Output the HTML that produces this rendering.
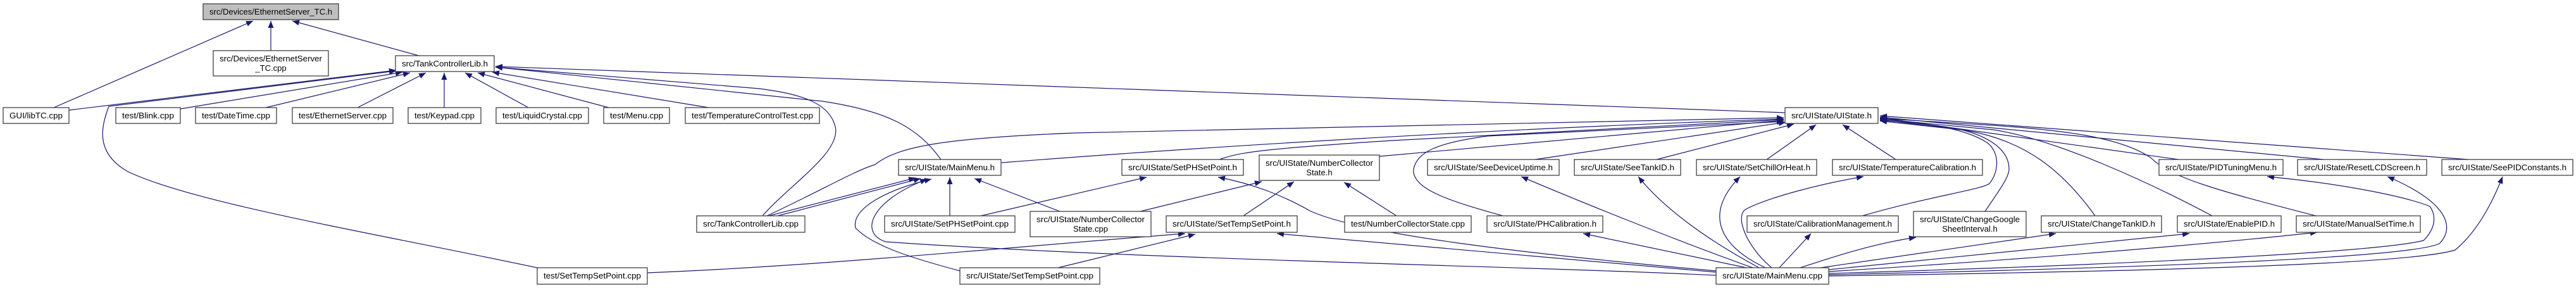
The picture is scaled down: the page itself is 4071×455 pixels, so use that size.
<!DOCTYPE html>
<html><head><meta charset="utf-8"><style>
html,body{margin:0;padding:0;background:#fff;}
svg{display:block;}
text{font-family:"Liberation Sans",Arial,sans-serif;font-size:13px;fill:#000;}
</style></head><body>
<svg width="4071" height="455" viewBox="0 0 4071 455" xmlns="http://www.w3.org/2000/svg">
<defs>
<marker id="a" markerWidth="12" markerHeight="10" refX="11" refY="5" orient="auto" markerUnits="userSpaceOnUse"><path d="M0,0.5 L11,5 L0,9.5 z" fill="#191970"/></marker>
</defs>
<g fill="none" stroke="#191970" stroke-width="1.2" marker-end="url(#a)">
<!-- to EthernetServer_TC.h -->
<path d="M85,170 L400,33"/>
<path d="M428,80 L428,33"/>
<path d="M662,88 L462,33"/>
<!-- to TankControllerLib.h -->
<path d="M109,174 L626,111"/>
<path d="M849,423 C600,370 300,320 200,270 C150,240 160,200 172,168 L626,112"/>
<path d="M285,172 L636,114"/>
<path d="M420,170 L648,115"/>
<path d="M565,170 L673,115"/>
<path d="M702,170 L702,115"/>
<path d="M835,170 L735,115"/>
<path d="M962,170 L755,115"/>
<path d="M1120,170 L778,114"/>
<path d="M1205,341 C1250,290 1330,240 1320,200 C1310,160 1260,148 1200,140 L783,106"/>
<path d="M1487,252 C1450,200 1400,175 1300,160 L783,106"/>
<path d="M2821,178 L783,105"/>
<!-- to UIState.h -->
<path d="M1212,341 C1300,300 1350,270 1383,260 C1420,230 1500,218 1700,210 L2819,186"/>
<path d="M1583,257 C1800,240 2300,205 2819,188"/>
<path d="M1927,252 C1960,240 2000,235 2200,222 L2819,189"/>
<path d="M2180,247 L2819,190"/>
<path d="M2375,341 C2300,320 2230,300 2234,267 C2240,240 2270,226 2350,215 L2819,192"/>
<path d="M2426,252 L2822,193"/>
<path d="M2618,252 L2835,196"/>
<path d="M2792,252 L2870,197"/>
<path d="M2996,252 L2912,197"/>
<path d="M2943,341 C3050,310 3130,300 3144,290 C3160,270 3160,240 3140,225 C3100,200 3040,195 2971,190"/>
<path d="M3137,334 C3160,300 3175,280 3175,267 C3175,235 3140,215 3100,205 L2971,191"/>
<path d="M3311,341 C3260,270 3200,220 3100,205 L2971,189"/>
<path d="M3496,341 C3400,290 3250,220 3150,205 L2971,188"/>
<path d="M3660,341 C3500,300 3430,280 3400,250 C3350,215 3250,205 3150,198 L2971,187"/>
<path d="M3443,252 L2971,186"/>
<path d="M3672,252 L2971,185"/>
<path d="M3901,252 L2971,183"/>
<!-- to MainMenu.h -->
<path d="M1215,341 L1447,281"/>
<path d="M1225,342 L1455,282"/>
<path d="M2712,435 C2400,420 1800,410 1400,382 C1360,370 1370,320 1465,283"/>
<path d="M1517,428 C1450,410 1380,390 1352,360 C1345,330 1400,300 1472,283"/>
<path d="M1501,341 L1501,280"/>
<path d="M1675,334 L1540,282"/>
<!-- to SetPHSetPoint.h -->
<path d="M1550,341 L1812,280"/>
<path d="M2712,428 C2400,400 2150,370 2070,333 C2030,310 1980,290 1925,280"/>
<!-- to NumberCollectorState.h -->
<path d="M1802,334 L1994,287"/>
<path d="M1965,341 L2045,287"/>
<path d="M2207,341 L2124,288"/>
<!-- to SetTempSetPoint.h -->
<path d="M1023,431 C1300,420 1600,390 1873,369"/>
<path d="M1672,423 L1889,370"/>
<path d="M2712,430 L2018,369"/>
<!-- MainMenu.cpp to others -->
<path d="M2812,423 L2862,369"/>
<path d="M2845,423 C2900,405 2960,385 3028,375"/>
<path d="M2870,424 L3249,369"/>
<path d="M2890,426 L3460,369"/>
<path d="M2890,429 C3200,410 3500,385 3662,367"/>
<path d="M2890,432 C3300,420 3750,400 3830,380 C3850,360 3850,340 3840,326 C3800,310 3700,290 3583,279"/>
<path d="M2890,434 C3300,425 3800,410 3855,385 C3880,360 3870,320 3773,279"/>
<path d="M2890,436 C3300,430 3800,420 3880,395 C3910,370 3935,330 3955,279"/>
<path d="M2760,423 L2502,369"/>
<path d="M2770,423 C2650,380 2500,320 2404,279"/>
<path d="M2780,423 C2700,380 2630,330 2589,279"/>
<path d="M2790,423 C2720,390 2690,340 2750,279"/>
<path d="M2800,423 C2760,390 2740,340 2760,330 C2800,310 2880,290 2945,279"/>
</g>
<g stroke="#404040" stroke-width="1.3">
<rect x="321" y="6" width="214" height="25" fill="#bfbfbf"/>
<g fill="#fff">
<rect x="337" y="80" width="182" height="40"/>
<rect x="625" y="88" width="156" height="25"/>
<rect x="5" y="170" width="104" height="25"/>
<rect x="183" y="170" width="102" height="25"/>
<rect x="309" y="170" width="128" height="25"/>
<rect x="462" y="170" width="159" height="25"/>
<rect x="645" y="170" width="115" height="25"/>
<rect x="784" y="170" width="146" height="25"/>
<rect x="954" y="170" width="104" height="25"/>
<rect x="1083" y="170" width="212" height="25"/>
<rect x="2821" y="170" width="147" height="25"/>
<rect x="1420" y="252" width="162" height="25"/>
<rect x="1773" y="252" width="192" height="25"/>
<rect x="1990" y="245" width="190" height="40"/>
<rect x="2256" y="252" width="208" height="25"/>
<rect x="2488" y="252" width="168" height="25"/>
<rect x="2681" y="252" width="190" height="25"/>
<rect x="2896" y="252" width="237" height="25"/>
<rect x="3412" y="252" width="196" height="25"/>
<rect x="3631" y="252" width="204" height="25"/>
<rect x="3859" y="252" width="207" height="25"/>
<rect x="1101" y="341" width="171" height="26"/>
<rect x="1398" y="341" width="206" height="26"/>
<rect x="1628" y="334" width="191" height="40"/>
<rect x="1843" y="341" width="207" height="26"/>
<rect x="2125" y="341" width="200" height="26"/>
<rect x="2350" y="341" width="183" height="26"/>
<rect x="2761" y="341" width="239" height="26"/>
<rect x="3024" y="334" width="178" height="40"/>
<rect x="3226" y="341" width="190" height="26"/>
<rect x="3441" y="341" width="164" height="26"/>
<rect x="3629" y="341" width="196" height="26"/>
<rect x="849" y="423" width="174" height="26"/>
<rect x="1517" y="423" width="221" height="26"/>
<rect x="2712" y="423" width="178" height="26"/>
</g></g>
<g text-anchor="middle" lengthAdjust="spacingAndGlyphs">
<text x="428" y="23" textLength="194" lengthAdjust="spacingAndGlyphs">src/Devices/EthernetServer_TC.h</text>
<text x="428" y="97" textLength="162" lengthAdjust="spacingAndGlyphs">src/Devices/EthernetServer</text>
<text x="428" y="112">_TC.cpp</text>
<text x="703" y="105" textLength="136" lengthAdjust="spacingAndGlyphs">src/TankControllerLib.h</text>
<text x="57" y="187" textLength="84" lengthAdjust="spacingAndGlyphs">GUI/libTC.cpp</text>
<text x="234" y="187" textLength="82" lengthAdjust="spacingAndGlyphs">test/Blink.cpp</text>
<text x="373" y="187" textLength="108" lengthAdjust="spacingAndGlyphs">test/DateTime.cpp</text>
<text x="541.5" y="187" textLength="139" lengthAdjust="spacingAndGlyphs">test/EthernetServer.cpp</text>
<text x="702.5" y="187" textLength="95" lengthAdjust="spacingAndGlyphs">test/Keypad.cpp</text>
<text x="857" y="187" textLength="126" lengthAdjust="spacingAndGlyphs">test/LiquidCrystal.cpp</text>
<text x="1006" y="187" textLength="84" lengthAdjust="spacingAndGlyphs">test/Menu.cpp</text>
<text x="1189" y="187" textLength="192" lengthAdjust="spacingAndGlyphs">test/TemperatureControlTest.cpp</text>
<text x="2894.5" y="187" textLength="127" lengthAdjust="spacingAndGlyphs">src/UIState/UIState.h</text>
<text x="1501" y="269" textLength="142" lengthAdjust="spacingAndGlyphs">src/UIState/MainMenu.h</text>
<text x="1869" y="269" textLength="172" lengthAdjust="spacingAndGlyphs">src/UIState/SetPHSetPoint.h</text>
<text x="2085" y="262" textLength="170" lengthAdjust="spacingAndGlyphs">src/UIState/NumberCollector</text>
<text x="2085" y="277">State.h</text>
<text x="2360" y="269" textLength="188" lengthAdjust="spacingAndGlyphs">src/UIState/SeeDeviceUptime.h</text>
<text x="2572" y="269" textLength="148" lengthAdjust="spacingAndGlyphs">src/UIState/SeeTankID.h</text>
<text x="2776" y="269" textLength="170" lengthAdjust="spacingAndGlyphs">src/UIState/SetChillOrHeat.h</text>
<text x="3014.5" y="269" textLength="217" lengthAdjust="spacingAndGlyphs">src/UIState/TemperatureCalibration.h</text>
<text x="3510" y="269" textLength="176" lengthAdjust="spacingAndGlyphs">src/UIState/PIDTuningMenu.h</text>
<text x="3733" y="269" textLength="184" lengthAdjust="spacingAndGlyphs">src/UIState/ResetLCDScreen.h</text>
<text x="3962.5" y="269" textLength="187" lengthAdjust="spacingAndGlyphs">src/UIState/SeePIDConstants.h</text>
<text x="1186.5" y="358" textLength="151" lengthAdjust="spacingAndGlyphs">src/TankControllerLib.cpp</text>
<text x="1501" y="358" textLength="186" lengthAdjust="spacingAndGlyphs">src/UIState/SetPHSetPoint.cpp</text>
<text x="1723.5" y="351" textLength="171" lengthAdjust="spacingAndGlyphs">src/UIState/NumberCollector</text>
<text x="1723.5" y="366">State.cpp</text>
<text x="1946.5" y="358" textLength="187" lengthAdjust="spacingAndGlyphs">src/UIState/SetTempSetPoint.h</text>
<text x="2225" y="358" textLength="180" lengthAdjust="spacingAndGlyphs">test/NumberCollectorState.cpp</text>
<text x="2441.5" y="358" textLength="163" lengthAdjust="spacingAndGlyphs">src/UIState/PHCalibration.h</text>
<text x="2880.5" y="358" textLength="219" lengthAdjust="spacingAndGlyphs">src/UIState/CalibrationManagement.h</text>
<text x="3113" y="351" textLength="158" lengthAdjust="spacingAndGlyphs">src/UIState/ChangeGoogle</text>
<text x="3113" y="366">SheetInterval.h</text>
<text x="3321" y="358" textLength="170" lengthAdjust="spacingAndGlyphs">src/UIState/ChangeTankID.h</text>
<text x="3523" y="358" textLength="144" lengthAdjust="spacingAndGlyphs">src/UIState/EnablePID.h</text>
<text x="3727" y="358" textLength="176" lengthAdjust="spacingAndGlyphs">src/UIState/ManualSetTime.h</text>
<text x="936" y="440" textLength="154" lengthAdjust="spacingAndGlyphs">test/SetTempSetPoint.cpp</text>
<text x="1627.5" y="440" textLength="201" lengthAdjust="spacingAndGlyphs">src/UIState/SetTempSetPoint.cpp</text>
<text x="2801" y="440" textLength="158" lengthAdjust="spacingAndGlyphs">src/UIState/MainMenu.cpp</text>
</g>
</svg>
</body></html>
